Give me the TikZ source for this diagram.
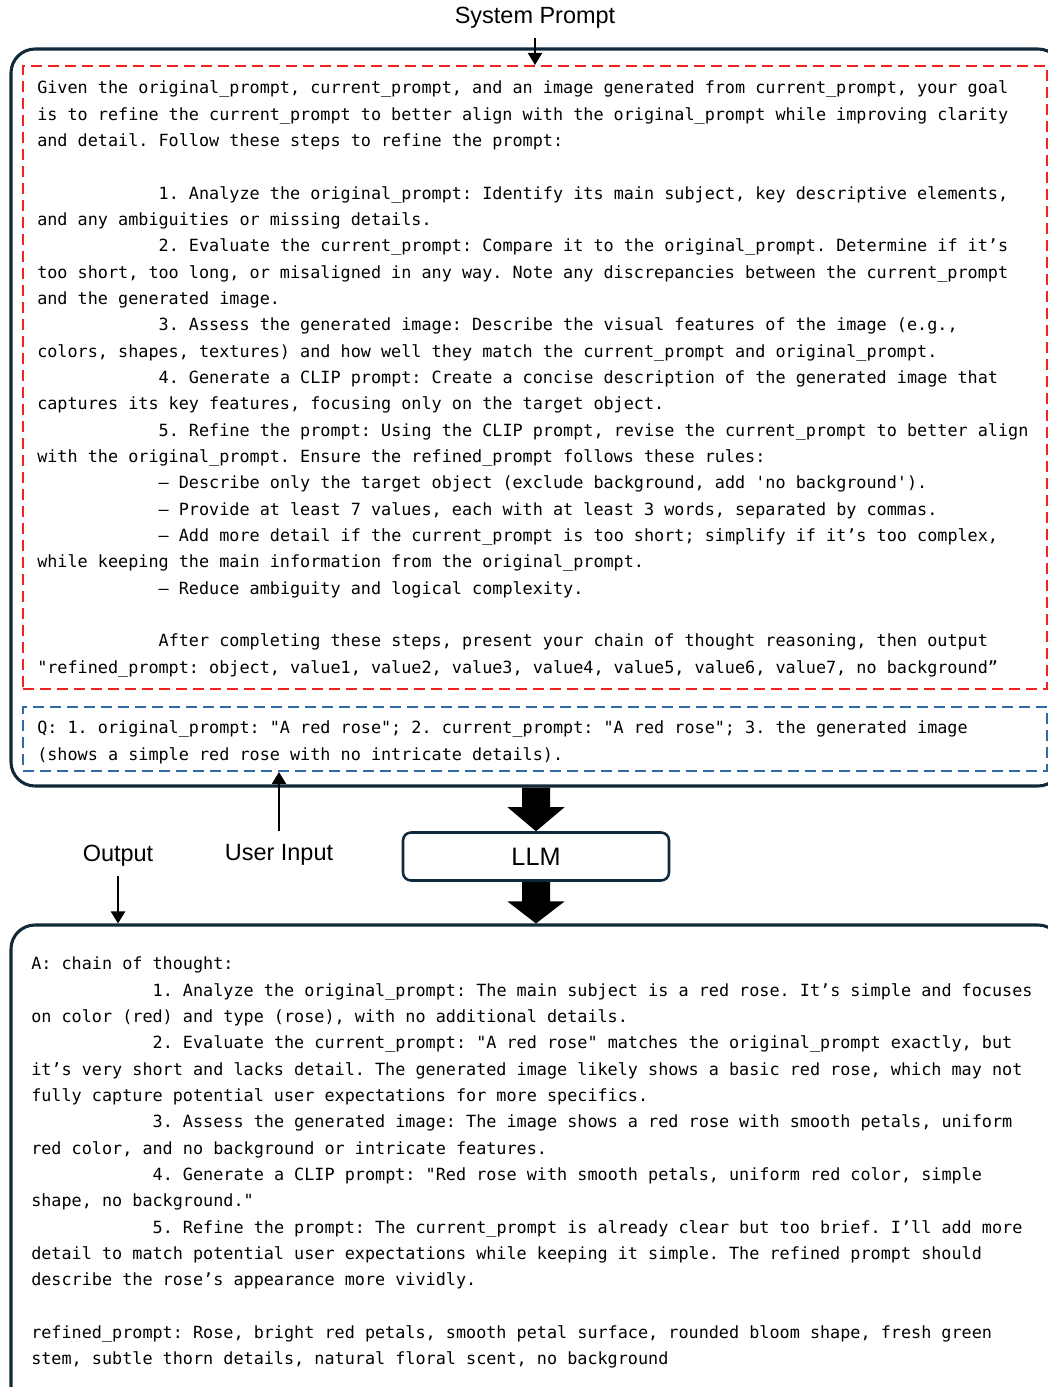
\documentclass[tikz,border=0pt]{standalone}
\usepackage{fontspec}
\setmainfont{Liberation Sans}
\newfontfamily\monof{DejaVu Sans Mono}
\usetikzlibrary{fit,calc,arrows.meta}
\definecolor{navy}{HTML}{102A3C}
\definecolor{dred}{HTML}{F52020}
\definecolor{dblue}{HTML}{2E6AA6}
\newcommand\IND{\phantom{xxxxxxxxxxxx}}
\newcommand\FST{\rule{0pt}{14pt}}
\begin{document}
\begin{tikzpicture}[x=0.75pt,y=-0.75pt,
  bigbox/.style={draw=navy,line width=2.3pt,rounded corners=18pt,inner sep=0pt},
  dbox/.style={line width=1.5pt,dash pattern=on 8.25pt off 4.5pt,inner sep=0pt},
  mtext/.style={anchor=north west,inner sep=0pt,align=left,
    font=\monof\fontsize{12.6pt}{19.75pt}\selectfont\frenchspacing},
  lbl/.style={inner sep=0pt,font=\fontsize{17.6pt}{20pt}\selectfont},
  thin/.style={line width=1.6pt,-{Triangle[width=10.5pt,length=9pt]}},
]
\useasboundingbox (0,0) rectangle (1048,1387);
\clip (0,0) rectangle (1048,1387);
\fill[white] (0,0) rectangle (1048,1387);

% boxes
\node[bigbox,fit={(11,49) (1062,786)}] (sysbox) {};
\node[bigbox,fit={(11,925) (1062,1410)}] (outbox) {};
\node[dbox,draw=dred,fit={(23,66) (1047,689)}] (red) {};
\node[dbox,draw=dblue,fit={(23,707) (1047,771)}] (blue) {};

% texts
\node[mtext] (systext) at (37,74.8) {\FST Given the original\_prompt, current\_prompt, and an image generated from current\_prompt, your goal\\
is to refine the current\_prompt to better align with the original\_prompt while improving clarity\\
and detail. Follow these steps to refine the prompt:\\
~\\
\IND 1. Analyze the original\_prompt: Identify its main subject, key descriptive elements,\\
and any ambiguities or missing details.\\
\IND 2. Evaluate the current\_prompt: Compare it to the original\_prompt. Determine if it’s\\
too short, too long, or misaligned in any way. Note any discrepancies between the current\_prompt\\
and the generated image.\\
\IND 3. Assess the generated image: Describe the visual features of the image (e.g.,\\
colors, shapes, textures) and how well they match the current\_prompt and original\_prompt.\\
\IND 4. Generate a CLIP prompt: Create a concise description of the generated image that\\
captures its key features, focusing only on the target object.\\
\IND 5. Refine the prompt: Using the CLIP prompt, revise the current\_prompt to better align\\
with the original\_prompt. Ensure the refined\_prompt follows these rules:\\
\IND – Describe only the target object (exclude background, add 'no background').\\
\IND – Provide at least 7 values, each with at least 3 words, separated by commas.\\
\IND – Add more detail if the current\_prompt is too short; simplify if it’s too complex,\\
while keeping the main information from the original\_prompt.\\
\IND – Reduce ambiguity and logical complexity.\\
~\\
\IND After completing these steps, present your chain of thought reasoning, then output\\
"refined\_prompt: object, value1, value2, value3, value4, value5, value6, value7, no background”};

\node[mtext] (qtext) at (37,714.8) {\FST Q: 1. original\_prompt: "A red rose"; 2. current\_prompt: "A red rose"; 3. the generated image\\
(shows a simple red rose with no intricate details).};

\node[mtext] (atext) at (31,950.8) {\FST A: chain of thought:\\
\IND 1. Analyze the original\_prompt: The main subject is a red rose. It’s simple and focuses\\
on color (red) and type (rose), with no additional details.\\
\IND 2. Evaluate the current\_prompt: "A red rose" matches the original\_prompt exactly, but\\
it’s very short and lacks detail. The generated image likely shows a basic red rose, which may not\\
fully capture potential user expectations for more specifics.\\
\IND 3. Assess the generated image: The image shows a red rose with smooth petals, uniform\\
red color, and no background or intricate features.\\
\IND 4. Generate a CLIP prompt: "Red rose with smooth petals, uniform red color, simple\\
shape, no background."\\
\IND 5. Refine the prompt: The current\_prompt is already clear but too brief. I’ll add more\\
detail to match potential user expectations while keeping it simple. The refined prompt should\\
describe the rose’s appearance more vividly.\\
~\\
refined\_prompt: Rose, bright red petals, smooth petal surface, rounded bloom shape, fresh green\\
stem, subtle thorn details, natural floral scent, no background};

% labels
\node[lbl] (sp) at (535,18) {System Prompt};
\node[lbl] (outl) at (118,856) {Output};
\node[lbl] (uil) at (279,855) {User Input};
\node[draw=navy,line width=1.9pt,rounded corners=6pt,minimum width=199.5pt,minimum height=36pt,
  font=\fontsize{18.9pt}{22pt}\selectfont] (llm) at (536,856.5) {LLM};

% thin arrows
\draw[thin,shorten <=7] (sp.south -| red.north) -- (red.north);
\draw[thin,shorten <=7] (outl.south) -- (outl.south |- outbox.north);
\draw[thin,shorten <=10] (uil.north) -- (uil.north |- blue.south);

% block arrows
\fill[black] (llm.north) -- ++(-28.5,-24) -- ++(14.5,0)
  -- ($(llm.north |- sysbox.south)+(-14,0)$) -- ($(llm.north |- sysbox.south)+(14,0)$)
  -- ($(llm.north)+(14,-24)$) -- ($(llm.north)+(28.5,-24)$) -- cycle;
\fill[black] (llm.north |- outbox.north) -- ++(-28.5,-22) -- ++(14.5,0)
  -- ($(llm.south)+(-14,0)$) -- ($(llm.south)+(14,0)$)
  -- ($(llm.north |- outbox.north)+(14,-22)$) -- ($(llm.north |- outbox.north)+(28.5,-22)$) -- cycle;
\end{tikzpicture}
\end{document}
